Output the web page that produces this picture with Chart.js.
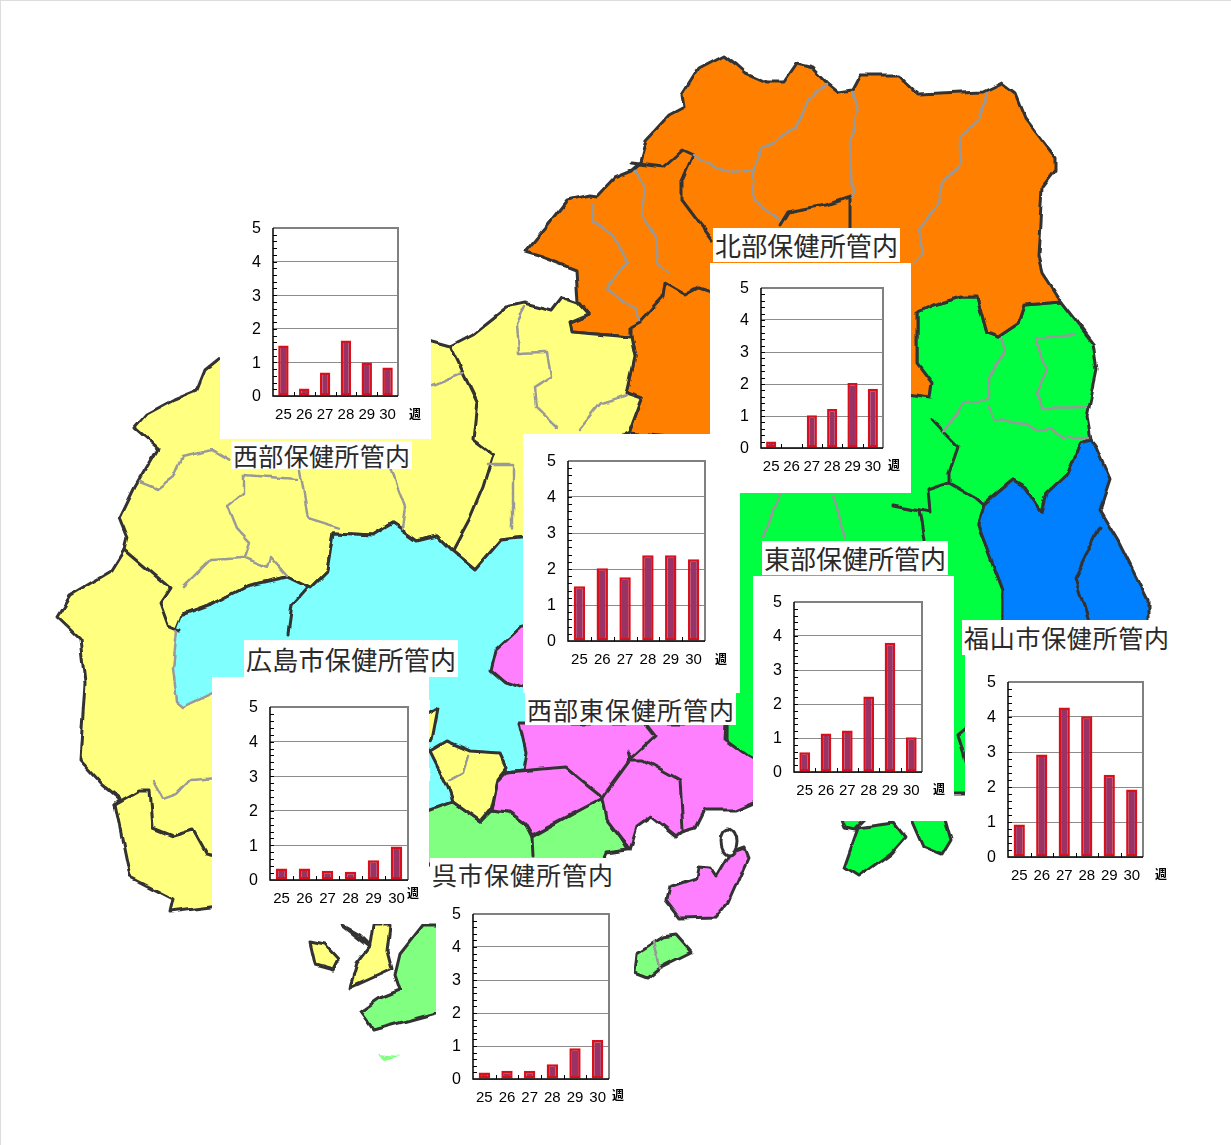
<!DOCTYPE html>
<html lang="ja">
<head>
<meta charset="utf-8">
<title>保健所管内別</title>
<script src="https://cdn.jsdelivr.net/npm/chart.js@4"></script>
<style>
	html, body { margin: 0; padding: 0; background: #fff; }
	#page { position: relative; width: 1231px; height: 1145px; overflow: hidden; box-shadow: inset 1px 1px 0 #ddd; }
	#map { position: absolute; left: 0; top: 0; }
	.panel { position: absolute; background: #fff; }
	.panel canvas { display: block; }
	.week { position: absolute; font: bold 12px "Noto Sans CJK JP"; color: #000; line-height: 12px; }
	.name { position: absolute; background: #fff; color: #2a2a2a; box-sizing: border-box; padding: 0 2px;
		font-family: "Noto Sans CJK JP"; font-weight: 400; white-space: nowrap;
		text-align: justify; text-align-last: justify; }
</style>
</head>
<body>
<div id="page">
<svg id="map" width="1231" height="1145" fill="none" stroke-linejoin="round" stroke-linecap="round">
	<defs>
		<filter id="rough" x="0" y="0" width="100%" height="100%" filterUnits="userSpaceOnUse" primitiveUnits="userSpaceOnUse">
			<feTurbulence type="fractalNoise" baseFrequency="0.06" numOctaves="1" seed="4" result="n"/>
			<feDisplacementMap in="SourceGraphic" in2="n" scale="7" xChannelSelector="R" yChannelSelector="G"/>
			<feGaussianBlur stdDeviation="0.6"/>
		</filter>
	</defs>
	<g filter="url(#rough)">
	<g stroke="#333" stroke-width="3">
		<!-- 東部 -->
		<path fill="#00ff40" d="M917 312L932 305L962 297L977 297L987 333L998 337L1019 323L1025 305L1061 302L1093 343L1097 370L1087 417L1091 440L1080 443L1068 473L1047 493L1042 512L1025 487L1013 480L983 505L978 525L1003 590L1003 622L970 640L970 795L750 795L727 745L728 600L735 490L735 400L905 395L917 363Z"/>
		<path fill="#00ff40" d="M844 868L858 828L894 823L905 837L891 853L858 877Z"/>
		<path fill="#00ff40" d="M909 815L944 815L951 840L942 855L923 847Z"/>
		<path fill="#00ff40" d="M840 815L870 815L855 830L845 828Z"/>
		<!-- 福山 -->
		<path fill="#0080ff" d="M1091 440L1080 443L1068 473L1047 493L1042 512L1025 487L1013 480L983 505L978 525L1003 590L1003 630L1148 630L1148 600L1118 540L1100 510L1110 480L1095 445Z"/>
		<!-- 北部 -->
		<path fill="#ff8000" d="M525 252L545 228L567 200L590 195L597 196L615 177L632 170L640 163L646 140L669 115L684 107L682 95L699 68L724 55L737 65L746 73L767 82L784 82L797 63L813 67L828 83L839 92L852 90L860 75L898 75L919 95L983 92L1002 83L1015 93L1025 118L1055 157L1055 170L1042 187L1038 257L1042 273L1061 302L1025 305L1019 323L998 337L987 333L977 297L962 297L932 305L917 312L917 363L932 383L930 398L907 395L700 440L629 433L642 398L627 393L635 357L631 337L572 332L570 323L589 315L578 302L576 270L542 257Z"/>
		<!-- 西部 -->
		<path fill="#ffff80" d="M57 617L70 596L112 571L125 550L128 538L120 518L135 487L158 448L135 428L147 414L175 399L197 390L205 370L220 358L300 300L432 341L450 346L473 334L507 307L525 303L551 310L561 297L578 303L589 315L570 323L572 332L631 337L635 357L627 393L642 398L629 433L560 470L523 537L500 540L475 569L452 550L437 535L417 540L393 523L373 535L333 533L327 571L310 588L287 577L247 586L210 605L183 615L177 630L220 700L220 906L170 912L173 899L130 877L115 804L120 799L103 785L80 760L85 683L80 639Z"/>
		<!-- 広島市 -->
		<path fill="#80ffff" stroke="none" d="M183 615L210 605L247 586L287 577L310 588L327 571L333 533L373 535L393 523L417 540L437 535L452 550L475 569L500 540L530 537L530 770L507 772L500 753L470 751L447 741L430 751L447 785L453 802L429 812L429 690L220 690L183 707L177 702L173 668L177 630Z"/>
		<path d="M183 615L210 605L247 586L287 577L310 588L327 571L333 533L373 535L393 523L417 540L437 535L452 550L475 569L500 540L530 537"/>
		<path d="M507 772L523 770"/>
		<!-- 西部東 -->
		<path fill="#ff80ff" d="M530 627L521 627L496 650L491 670L505 682L530 690Z"/>
		<!-- 呉市 -->
		<path fill="#80ff80" d="M425 812L453 802L480 821L491 810L509 812L525 823L532 837L601 798L610 820L628 850L605 853L600 865L425 865Z"/>
		<path d="M532 837L533 856"/>
		<path fill="#ff80ff" d="M519 723L726 723L725 740L748 757L765 767L765 797L735 810L705 810L696 828L682 832L676 837L651 817L637 827L630 850L607 820L603 798L532 835L525 823L509 812L491 810L496 783L507 772L523 770L526 753Z"/>
		<path d="M507 772L566 767L584 782L603 797L630 760L644 760L680 780L683 830"/>
		<path d="M630 760L628 752L632 758L655 737L644 723"/>
		<path fill="#ffff80" d="M430 751L447 741L470 751L500 753L507 768L497 780L490 809L480 821L453 802L447 785Z"/>
		<path fill="#ffff80" d="M425 715L438 708L432 740L425 745Z"/>
		<!-- 島 -->
		<path fill="#ff80ff" d="M666 900L669 887L696 878L698 867L710 868L716 877L730 853L744 848L748 858L728 903L716 917L680 918Z"/>
		<ellipse fill="#fff" cx="729" cy="842" rx="8" ry="13"/>
		<path fill="#80ff80" d="M637 953L662 937L676 935L691 952L659 968L648 977L635 972Z"/>
		<path fill="#ffff80" d="M310 942L325 945L338 959L333 969L315 964Z"/>
		<path fill="#ffff80" d="M342 925L360 935L370 945L373 925L390 925L387 950L392 969L350 988L357 964L370 947Z"/>
		<path fill="#80ff80" d="M360 1012L380 998L400 990L395 975L400 954L423 925L440 925L440 1012L373 1030Z"/>
		<path fill="#80ff80" stroke="none" d="M378 1054L402 1056L385 1060Z"/>
		<!-- 内側の太線 -->
		<path d="M125 550L170 588L160 603L168 625L180 630"/>
		<path d="M450 346L477 402L473 440L493 455L483 487L470 518L453 550"/>
		<path d="M115 804L140 790L150 790L153 828L173 836L193 830L207 855L220 858"/>
		<path d="M307 588L292 605L288 634"/>
		<path d="M631 163L663 167L682 150L693 155L682 180L682 200L712 240"/>
		<path d="M850 227L850 197L826 205L788 212L780 225"/>
		<path d="M711 292L699 288L686 295L665 283L663 297L640 322L631 327L631 337"/>
		<path d="M932 420L943 432L958 447L949 473L949 483L975 498L983 505"/>
		<path d="M949 483L928 490L930 512L894 505"/>
		<path d="M919 510L924 540"/>
		<path d="M1100 527L1075 578L1090 625"/>
		<path d="M970 725L958 735L970 775"/>
	</g>
	<g stroke="#999" stroke-width="2.5" stroke-dasharray="6 1.5">
		<path d="M177 630L173 668L177 702L183 707L220 690"/>
		<path d="M826 83L807 102L797 127L763 147L754 173L754 200L780 220"/>
		<path d="M852 92L858 113L850 143L852 197"/>
		<path d="M987 93L979 120L960 137L960 163L943 183L939 203L919 230L924 253L913 262"/>
		<path d="M693 155L716 168L733 173L754 170"/>
		<path d="M636 170L644 190L642 217L655 237L657 263L667 273"/>
		<path d="M593 203L593 222L614 237L627 262L606 288L636 310L640 320"/>
		<path d="M1002 338L1006 350L989 377L989 400L966 402L943 432"/>
		<path d="M989 407L994 420L1025 423L1036 430L1051 428L1064 438L1089 438"/>
		<path d="M1076 335L1036 338L1047 370L1036 393L1042 408L1087 407"/>
		<path d="M780 493L763 537"/>
		<path d="M833 495L845 537"/>
		<path d="M525 307L517 323L519 353L547 352L551 377L534 388L536 407L557 427"/>
		<path d="M580 430L602 403L627 395"/>
		<path d="M432 385L463 373"/>
		<path d="M487 465L513 465L513 528"/>
		<path d="M140 482L157 489L173 477L182 457L213 450L230 460"/>
		<path d="M390 467L405 506L402 528"/>
		<path d="M300 470L308 518L340 528"/>
		<path d="M243 475L297 479"/>
		<path d="M243 475L243 494L228 506L237 528L250 542L245 557"/>
		<path d="M183 586L210 559L243 557L267 567L270 557L287 576"/>
		<path d="M153 780L163 799L177 794L190 780L220 778"/>
		<path d="M468 756L463 773L450 780"/>
		<path d="M653 942L659 968"/>
	</g>
	</g>
</svg>
</div>
<script>
const weeks = ['25', '26', '27', '28', '29', '30']
const yTicks = [0, 1, 2, 3, 4, 5]

const seibu = [1.5, 0.22, 0.7, 1.65, 1.0, 0.85]
const hokubu = [0.2, 0, 1.02, 1.22, 2.03, 1.85]
const seibuHigashi = [1.52, 2.02, 1.77, 2.38, 2.38, 2.27]
const tobu = [0.58, 1.13, 1.22, 2.22, 3.8, 1.02]
const fukuyama = [0.93, 2.93, 4.27, 4.02, 2.35, 1.93]
const hiroshima = [0.33, 0.33, 0.27, 0.24, 0.57, 0.97]
const kure = [0.2, 0.25, 0.25, 0.45, 0.93, 1.18]

// panel: white box, plot: axes rectangle, week: position of the 週 mark
const panels = [
	{ values: seibu, panel: [220, 195, 431, 439], plot: [273, 228, 398, 396], week: [409, 408] },
	{ values: hokubu, panel: [710, 263, 911, 493], plot: [761, 288, 883, 448], week: [888, 459] },
	{ values: seibuHigashi, panel: [523, 434, 740, 693], plot: [568, 461, 705, 641], week: [715, 653] },
	{ values: tobu, panel: [753, 576, 954, 821], plot: [794, 602, 922, 772], week: [933, 783] },
	{ values: fukuyama, panel: [965, 655, 1231, 890], plot: [1008, 682, 1143, 857], week: [1155, 868] },
	{ values: hiroshima, panel: [212, 677, 429, 924], plot: [270, 707, 408, 880], week: [407, 887] },
	{ values: kure, panel: [436, 890, 634, 1125], plot: [473, 914, 609, 1079], week: [612, 1089] }
]

const names = [
	{ text: '西部保健所管内', box: [231, 441, 412, 469], size: 25 },
	{ text: '北部保健所管内', box: [713, 228, 900, 262], size: 26 },
	{ text: '東部保健所管内', box: [762, 541, 948, 575], size: 26 },
	{ text: '広島市保健所管内', box: [244, 640, 458, 677], size: 26 },
	{ text: '西部東保健所管内', box: [525, 693, 736, 725], size: 25 },
	{ text: '呉市保健所管内', box: [430, 858, 615, 890], size: 25 },
	{ text: '福山市保健所管内', box: [962, 620, 1171, 655], size: 25 }
]

// inward tick marks and the frame round the plot
const frame = {
	id: 'frame',
	afterDatasetsDraw(chart) {
		const { ctx, chartArea: a, scales: { x, y } } = chart
		ctx.save()
		ctx.lineWidth = 1
		ctx.strokeStyle = '#000'
		ctx.beginPath()
		for (let i = 1; i < 25; i++) {
			const py = Math.round(y.getPixelForValue(i / 5)) + 0.5
			ctx.moveTo(a.left, py)
			ctx.lineTo(a.left + 4, py)
		}
		for (let i = 1; i < weeks.length; i++) {
			const px = Math.round((x.getPixelForValue(i - 1) + x.getPixelForValue(i)) / 2) + 0.5
			ctx.moveTo(px, a.bottom)
			ctx.lineTo(px, a.bottom - 4)
		}
		ctx.stroke()
		ctx.lineWidth = 2
		ctx.strokeStyle = '#808080'
		ctx.beginPath()
		ctx.moveTo(a.left, a.top)
		ctx.lineTo(a.right, a.top)
		ctx.lineTo(a.right, a.bottom)
		ctx.stroke()
		ctx.strokeStyle = '#000'
		ctx.lineWidth = 1.5
		ctx.beginPath()
		ctx.moveTo(a.left, a.top)
		ctx.lineTo(a.left, a.bottom)
		ctx.lineTo(a.right, a.bottom)
		ctx.stroke()
		ctx.restore()
	}
}

const page = document.getElementById('page')

const addPanel = ({ values, panel, plot, week }) => {
	const [l, t, r, b] = panel
	const box = document.createElement('div')
	box.className = 'panel'
	box.style.cssText = `left:${l}px;top:${t}px;width:${r - l}px;height:${b - t}px`
	const canvas = document.createElement('canvas')
	canvas.width = r - l
	canvas.height = b - t
	box.appendChild(canvas)
	page.appendChild(box)

	const yWidth = 30
	const xHeight = 40
	new Chart(canvas, {
		type: 'bar',
		data: {
			labels: weeks,
			datasets: [{
				data: values,
				backgroundColor: '#993366',
				borderColor: '#d8101c',
				borderWidth: 2.5,
				borderSkipped: false,
				barPercentage: 0.5,
				categoryPercentage: 1
			}]
		},
		plugins: [frame],
		options: {
			responsive: false,
			animation: false,
			devicePixelRatio: 1,
			layout: {
				padding: {
					left: plot[0] - l - yWidth,
					top: plot[1] - t,
					right: r - plot[2],
					bottom: b - plot[3] - xHeight
				}
			},
			plugins: { legend: { display: false }, tooltip: { enabled: false } },
			scales: {
				x: {
					grid: { display: false },
					border: { display: false },
					ticks: { color: '#000', font: { family: 'Liberation Sans', size: 15 }, padding: 2, maxRotation: 0, autoSkip: false },
					afterFit: s => { s.height = xHeight }
				},
				y: {
					min: yTicks[0],
					max: yTicks[yTicks.length - 1],
					grid: { color: '#8c8c8c', lineWidth: 1, drawTicks: false },
					border: { display: false },
					ticks: { stepSize: 1, color: '#000', font: { family: 'Liberation Sans', size: 16 }, padding: 12, labelOffset: 1 },
					afterFit: s => { s.width = yWidth }
				}
			}
		}
	})

	const label = document.createElement('span')
	label.className = 'week'
	label.textContent = '週'
	label.style.left = week[0] + 'px'
	label.style.top = week[1] + 'px'
	page.appendChild(label)
}

const addName = ({ text, box, size }) => {
	const [l, t, r, b] = box
	const div = document.createElement('div')
	div.className = 'name'
	div.textContent = text
	div.style.cssText = `left:${l}px;top:${t}px;width:${r - l}px;height:${b - t}px;line-height:${b - t}px;font-size:${size}px`
	page.appendChild(div)
}

names.forEach(addName)
panels.forEach(addPanel)
</script>
</body>
</html>
